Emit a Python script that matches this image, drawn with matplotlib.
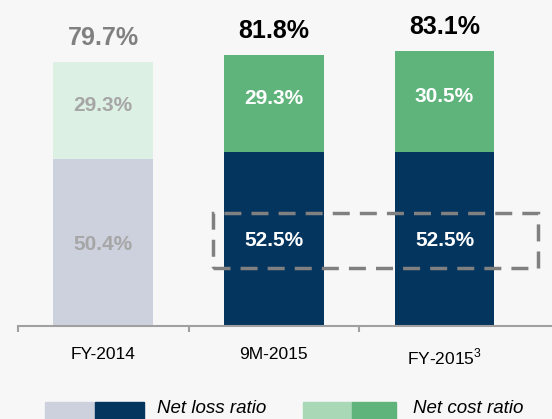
import matplotlib
matplotlib.use("Agg")
import matplotlib.pyplot as plt
from matplotlib.patches import Rectangle

categories = ["FY-2014", "9M-2015", "FY-2015"]
tick_labels = ["FY-2014", "9M-2015", r"FY-2015$^{\mathregular{3}}$"]
net_loss = [50.4, 52.5, 52.5]
net_cost = [29.3, 29.3, 30.5]
totals = [79.7, 81.8, 83.1]
legend_labels = ["Net loss ratio", "Net cost ratio"]

plt.rcParams["font.family"] = ["Liberation Sans", "DejaVu Sans"]

bg = "#f7f7f7"
loss_colors = ["#cdd1de", "#04355e", "#04355e"]
cost_colors = ["#ddf0e4", "#5fb47c", "#5fb47c"]
seg_text = ["#a6a6a6", "white", "white"]
tot_text = ["#808080", "black", "black"]
legend_colors = [("#cdd1de", "#04355e"), ("#a8d8b5", "#5fb47c")]

W, H = 552, 419
fig = plt.figure(figsize=(W/100, H/100), dpi=100, facecolor=bg)
ax = fig.add_axes([18/W, (H-326)/H, 1-18/W, 326/H])
ax.set_facecolor(bg)
x = list(range(len(categories)))
w = 0.585
ax.bar(x, net_loss, width=w, color=loss_colors)
ax.bar(x, net_cost, width=w, bottom=net_loss, color=cost_colors)

for i in x:
    ax.text(i, net_loss[i]/2 - 0.5, f"{net_loss[i]:.1f}%", ha="center", va="center",
            color=seg_text[i], fontsize=15, fontweight="bold")
    ax.text(i, net_loss[i] + net_cost[i]/2 + 1.5, f"{net_cost[i]:.1f}%", ha="center", va="center",
            color=seg_text[i], fontsize=15, fontweight="bold")
    ax.annotate(f"{totals[i]:.1f}%", (i, net_loss[i] + net_cost[i]), xytext=(0, 9),
                textcoords="offset points", ha="center", va="bottom",
                color=tot_text[i], fontsize=18, fontweight="bold")

ax.add_patch(Rectangle((0.643, 17.5), 2.55-0.643, 34.1-17.5, fill=False,
                       edgecolor="#808080", linewidth=2.5, linestyle=(0, (4.9, 2.9)),
                       clip_on=False, zorder=5))

ax.set_xlim(-0.5, 2.63)
ax.set_ylim(0, 98.5)
for s in ["top", "right", "left"]:
    ax.spines[s].set_visible(False)
ax.spines["bottom"].set_color("#a0a0a0")
ax.spines["bottom"].set_linewidth(1.5)
ax.set_yticks([])
ax.set_xticks([-0.5, 0.5, 1.5])
ax.set_xticklabels([])
ax.tick_params(axis="x", length=4.5, width=1.5, color="#a0a0a0", direction="out")
ax.set_xticks(x, minor=True)
ax.set_xticklabels(tick_labels, minor=True, fontsize=12.5)
ax.tick_params(axis="x", which="minor", length=0, pad=15)

# legend (two-tone swatches)
sw_x = [45, 303]
sw_w = [(50, 49), (49, 44)]
txt_x = [157, 413]
for k in range(2):
    x0 = sw_x[k]
    for j in range(2):
        fig.patches.append(Rectangle((x0/W, 0), sw_w[k][j]/W, (H-402)/H,
                                     transform=fig.transFigure, color=legend_colors[k][j]))
        x0 += sw_w[k][j]
    fig.text(txt_x[k]/W, (H-400)/H, legend_labels[k], ha="left", va="top",
             fontsize=13.5, style="italic", color="black")

fig.savefig("out.png", dpi=100, facecolor=bg)
